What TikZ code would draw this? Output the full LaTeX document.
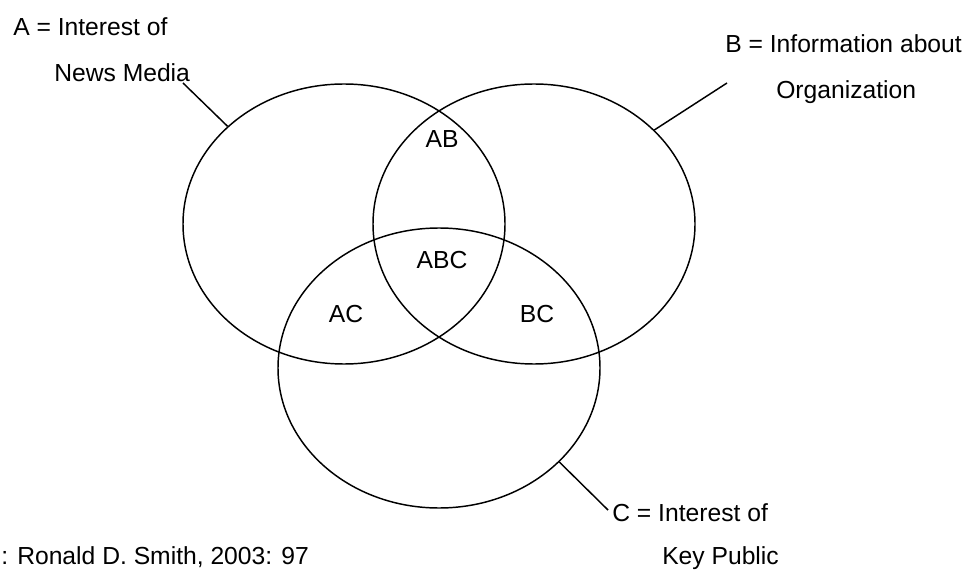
\documentclass[tikz,border=0pt]{standalone}
\usepackage{fontspec}
\setmainfont{Liberation Sans}
\usetikzlibrary{shapes.geometric}

\begin{document}
\begin{tikzpicture}[x=0.75pt,y=-0.75pt]

% Define set, label and leader style
\tikzstyle{venn} =[ellipse, draw, line width=1.1pt,
                   minimum width=241.5pt, minimum height=210pt, inner sep=0pt]
\tikzstyle{txt} =[anchor=base west, inner sep=0pt,
                  font=\fontsize{18.5}{21}\selectfont]
\tikzstyle{region} =[anchor=base, inner sep=0pt,
                     font=\fontsize{18.5}{21}\selectfont]
\tikzstyle{leader} =[line width=1.1pt]

\useasboundingbox (0,0) rectangle (967,570);

\foreach \s/\x/\y in {A/344/224, B/534/224, C/439/368}{
  \node[venn] (\s) at (\x,\y) {};
}

% regions
\node[region] (ab)  at (442,148) {AB};
\node[region] (abc) at (442,268) {ABC};
\node[region] (ac)  at (346,322) {AC};
\node[region] (bc)  at (537,322) {BC};

% set names
\node[txt] (a1) at (13,36) {A = Interest of};
\node[txt] (a2) at (54,82) {News Media};
\node[txt] (b1) at (725,53) {B = Information about};
\node[txt] (b2) at (776,99) {Organization};
\node[txt] (c1) at (612,521) {C = Interest of};
\node[txt] (c2) at (662,564) {Key Public};
\node[txt] (src) at (1,564) {: Ronald D. Smith, 2003: 97};

% leaders
\coordinate (a0) at (183,83);
\coordinate (b0) at (727,83);
\coordinate (c0) at (608,510);
\draw[leader] (a0) -- (A.140);
\draw[leader] (b0) -- (B.38);
\draw[leader] (c0) -- (C.-38);

\end{tikzpicture}
\end{document}
